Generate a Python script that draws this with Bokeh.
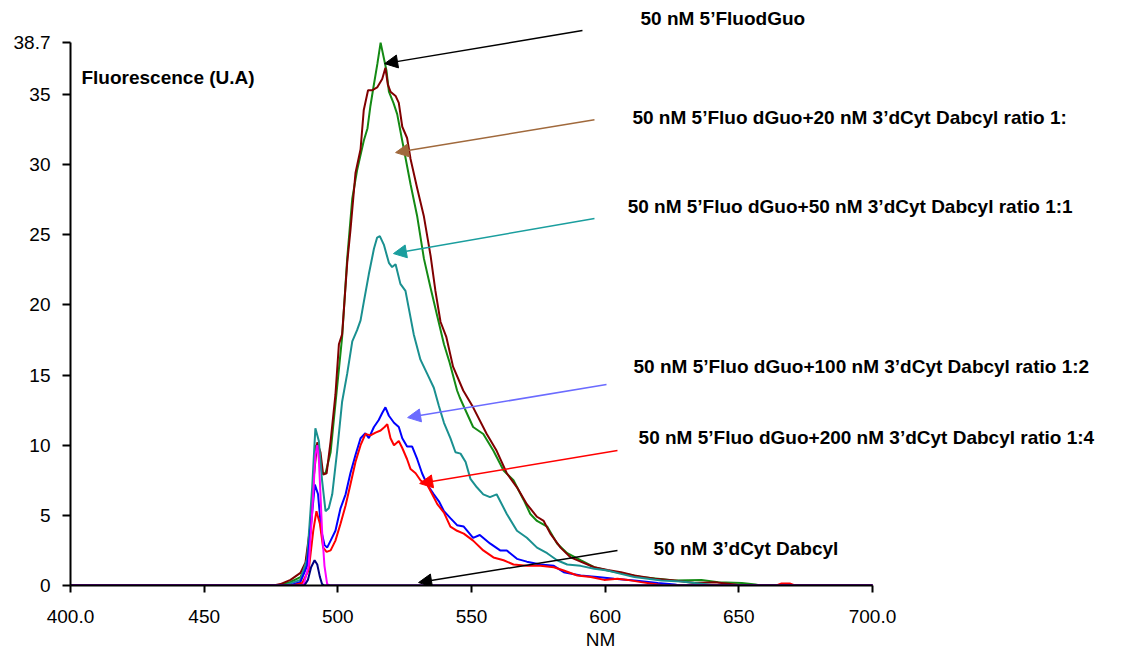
from bokeh.plotting import figure
from bokeh.models import Range1d, FixedTicker, Arrow, NormalHead
from bokeh.core.properties import value
from bokeh.embed import file_html
from bokeh.resources import INLINE

FONT = "Liberation Sans"

# ---------------- data (wavelength nm, fluorescence U.A) ----------------
green_nm = [400, 477, 478.5, 482.3, 486.0, 487.9, 489.8, 491.6, 492.9, 494.1, 495.4, 497.3,
            499.7, 501.6, 503.5, 505.4, 507.2, 509.7, 511.1, 512.2, 513.3, 514.8, 516.0, 517.2,
            518.2, 519.1, 520.8, 522.2, 524.7, 527.2, 529.7, 532.2, 534.7, 537.2, 539.7, 541.8,
            544.6, 545.6, 547.5, 550.6, 554.4, 558.2, 562.0, 565.7, 569.5, 572.0, 574.5, 578.3,
            582.0, 585.8, 590.8, 595.9, 600.9, 607.2, 613.4, 619.7, 626.0, 636.0, 642.3, 651.1,
            656.2, 658, 700]
green_val = [0, 0, 0.05, 0.25, 0.6, 1.4, 3.9, 10.0, 9.8, 8.0, 8.0, 9.5,
             14.1, 17.7, 23.3, 27.6, 29.6, 31.7, 32.6, 34.2, 35.5, 37.2, 38.7, 37.6,
             36.7, 35.2, 34.4, 33.6, 31.1, 28.6, 26.3, 23.3, 21.2, 19.2, 17.2, 15.9,
             13.9, 13.4, 12.6, 11.3, 10.8, 9.6, 8.2, 7.5, 6.1, 5.1, 4.6, 4.2,
             3.0, 2.3, 1.8, 1.3, 1.07, 0.83, 0.6, 0.48, 0.36, 0.4, 0.24, 0.17,
             0.07, 0, 0]

maroon_nm = [400, 476, 478.5, 482.3, 486.0, 487.9, 489.8, 491.0, 492.3, 493.5, 494.5, 495.8,
             497.3, 499.1, 500.4, 501.6, 503.5, 504.7, 506.6, 508.5, 509.7, 511.3, 512.8, 514.7,
             516.6, 517.8, 518.7, 519.7, 521.6, 522.8, 524.1, 525.9, 527.2, 529.7, 532.2, 534.7,
             536.5, 538.4, 540.6, 543.1, 546.9, 550.6, 555.7, 559.4, 563.2, 567.0, 570.7, 574.5,
             577.0, 579.5, 583.3, 587.1, 590.8, 595.9, 600.9, 605.9, 610.9, 618.5, 626.0, 633.5,
             641.0, 648.6, 651, 700]
maroon_val = [0, 0, 0.1, 0.4, 0.9, 1.65, 4.4, 7.75, 10.2, 9.5, 7.9, 8.0,
              10.3, 13.6, 17.2, 17.9, 23.0, 25.3, 29.4, 31.1, 33.9, 35.3, 35.3, 35.5,
              36.1, 36.9, 35.7, 35.2, 34.9, 34.4, 32.7, 31.9, 30.4, 28.3, 26.3, 23.5,
              21.0, 18.8, 17.7, 15.6, 13.9, 12.7, 10.8, 9.6, 8.0, 7.0, 5.8, 4.9,
              4.6, 3.7, 2.7, 2.0, 1.7, 1.3, 1.1, 0.95, 0.71, 0.48, 0.36, 0.17,
              0.24, 0.07, 0, 0]

teal_nm = [400, 480, 486.0, 488.5, 490.4, 491.6, 492.9, 494.1, 495.4, 496.6, 497.9, 499.7,
           501.6, 503.5, 505.4, 507.2, 508.5, 509.7, 511.6, 513.5, 514.7, 515.7, 517.2, 519.1,
           520.3, 521.6, 523.4, 525.3, 526.6, 528.4, 530.9, 533.4, 535.9, 537.8, 539.7, 542.1,
           544.0, 545.9, 547.8, 549.6, 552.0, 554.4, 556.9, 559.4, 563.2, 567.0, 570.7, 574.5,
           578.3, 582.0, 585.8, 590.8, 595.9, 600.9, 605.9, 610.9, 616.0, 621.0, 628.5, 633.5,
           638.6, 641, 700]
teal_val = [0, 0, 0.4, 1.9, 7.0, 11.2, 10.3, 7.5, 5.3, 5.5, 6.5, 9.5,
            13.1, 15.1, 17.4, 18.2, 18.9, 20.2, 22.2, 24.0, 24.8, 24.9, 24.3, 23.0,
            22.7, 22.9, 21.5, 21.0, 19.7, 17.9, 16.1, 15.1, 14.1, 12.8, 11.6, 10.5,
            9.5, 9.4, 8.8, 7.6, 7.0, 6.5, 6.3, 6.5, 5.1, 3.9, 3.4, 2.7,
            2.3, 1.8, 1.5, 1.4, 1.2, 1.07, 0.83, 0.6, 0.48, 0.36, 0.28, 0.17,
            0.07, 0, 0]

blue_nm = [400, 482, 486.0, 488.5, 490.4, 491.4, 492.6, 493.8, 495.0, 496.0, 497.3, 499.1,
           501.0, 502.9, 504.7, 506.6, 508.5, 510.3, 511.6, 513.5, 515.3, 516.6, 517.8, 519.1,
           521.0, 522.8, 524.1, 525.9, 527.8, 529.7, 531.5, 533.4, 535.9, 537.8, 539.7, 542.1,
           544.6, 547.1, 550.6, 553.1, 556.9, 560.7, 563.2, 567.0, 570.7, 575.8, 580.8, 584.5,
           590.8, 597.1, 603.4, 610.9, 619.7, 626.0, 628, 700]
blue_val = [0, 0, 0.25, 1.4, 5.2, 7.2, 6.5, 3.9, 2.9, 2.7, 3.2, 3.9,
            5.5, 6.5, 8.0, 9.3, 10.5, 10.85, 10.5, 11.3, 11.8, 12.3, 12.7, 12.1,
            11.6, 11.3, 10.5, 9.9, 9.9, 9.0, 8.0, 7.2, 6.5, 6.0, 5.3, 4.8,
            4.3, 4.2, 3.4, 3.6, 3.0, 2.5, 2.5, 1.9, 1.7, 1.5, 1.4, 0.95,
            0.71, 0.6, 0.48, 0.36, 0.17, 0.07, 0, 0]

red_nm = [400, 483, 486.7, 489.1, 490.8, 492.0, 493.3, 494.5, 495.8, 497.3, 499.1, 501.0,
          502.9, 504.7, 506.6, 508.5, 510.3, 512.2, 514.1, 516.0, 517.5, 518.5, 519.7, 521.0,
          522.8, 524.1, 525.9, 527.2, 529.1, 530.9, 533.4, 535.3, 537.2, 539.7, 542.1, 544.6,
          547.1, 550.6, 554.4, 558.2, 562.0, 565.7, 570.7, 575.8, 580.8, 584.5, 589.6, 594.6,
          599.6, 604.6, 608.4, 613.4, 619.7, 622, 664, 666, 669, 671, 700]
red_val = [0, 0, 0.18, 1.1, 3.9, 5.3, 4.4, 2.7, 2.4, 2.5, 3.2, 4.4,
           5.7, 7.2, 8.8, 10.0, 10.8, 10.7, 10.9, 11.05, 11.3, 11.5, 10.5, 10.0,
           10.3, 9.8, 9.0, 8.3, 8.0, 7.5, 7.2, 6.5, 5.8, 5.2, 4.2, 3.9,
           3.7, 3.2, 2.5, 2.0, 1.8, 1.5, 1.4, 1.4, 1.3, 1.07, 0.71, 0.6,
           0.4, 0.48, 0.4, 0.24, 0.07, 0, 0, 0.15, 0.15, 0, 0]

magenta_nm = [400, 486, 487.3, 489.1, 490.4, 491.6, 492.3, 492.9, 493.5, 494.1, 495.0, 496.0, 497, 700]
magenta_val = [0, 0, 0.1, 1.4, 5.2, 9.3, 10.0, 9.0, 6.5, 3.9, 1.4, 0.1, 0, 0]

navy_nm = [400, 487.5, 488.8, 490.0, 491.3, 492.3, 493.3, 494.1, 495, 700]
navy_val = [0, 0, 0.4, 1.3, 1.8, 1.5, 0.6, 0.1, 0, 0]

series_colors = ["#148A14", "#800000", "#1A9090", "#0000FF", "#FF0000", "#FF00FF", "#000080"]

# annotation labels: left x (nm), centre y (U.A)
labels = ["50 nM 5\u2019FluodGuo",
          "50 nM 5\u2019Fluo dGuo+20 nM 3\u2019dCyt Dabcyl ratio 1:",
          "50 nM 5\u2019Fluo dGuo+50 nM 3\u2019dCyt Dabcyl ratio 1:1",
          "50 nM 5\u2019Fluo dGuo+100 nM 3\u2019dCyt Dabcyl ratio 1:2",
          "50 nM 5\u2019Fluo dGuo+200 nM 3\u2019dCyt Dabcyl ratio 1:4",
          "50 nM 3\u2019dCyt Dabcyl"]
label_x = [613.2, 610.2, 608.4, 610.6, 612.5, 618.1]
label_y = [40.45, 33.36, 27.01, 15.61, 10.55, 2.64]

# arrows: start (tail) and end (head) in data units
arrow_x0 = [591.5, 596.0, 596.0, 600.5, 604.6, 604.6]
arrow_y0 = [39.56, 33.2, 26.16, 14.33, 9.62, 2.49]
arrow_x1 = [517.5, 521.6, 520.8, 526.1, 530.6, 530.2]
arrow_y1 = [37.2, 30.86, 23.66, 11.97, 7.27, 0.21]
arrow_colors = ["#000000", "#A0693C", "#1A9E9E", "#6B6BFF", "#FF0000", "#000000"]

y_ticks = [0, 5, 10, 15, 20, 25, 30, 35, 38.7]
y_tick_labels = ["0", "5", "10", "15", "20", "25", "30", "35", "38.7"]
x_ticks = [400, 450, 500, 550, 600, 650, 700]
x_tick_labels = ["400.0", "450", "500", "550", "600", "650", "700.0"]

# ---------------- figure ----------------
p = figure(width=1130, height=652, output_backend="svg", toolbar_location=None,
           x_range=Range1d(400, 796.5), y_range=Range1d(0, 41.13),
           min_border_left=70, min_border_right=0, min_border_top=8, min_border_bottom=67)
p.outline_line_color = None
p.grid.visible = False
p.background_fill_color = "white"

series = [(green_nm, green_val), (maroon_nm, maroon_val), (teal_nm, teal_val),
          (blue_nm, blue_val), (red_nm, red_val), (magenta_nm, magenta_val), (navy_nm, navy_val)]
for (xs, ys), c in zip(series, series_colors):
    p.line(xs, ys, line_color=c, line_width=2)

for x0, y0, x1, y1, c in zip(arrow_x0, arrow_y0, arrow_x1, arrow_y1, arrow_colors):
    p.add_layout(Arrow(end=NormalHead(size=13, fill_color=c, line_color=c),
                       x_start=x0, y_start=y0, x_end=x1, y_end=y1,
                       line_color=c, line_width=1.5))

p.text(x=label_x, y=label_y, text=labels, text_font=value(FONT), text_font_style="bold",
       text_font_size="19px", text_baseline="middle", text_align="left", text_color="black")
p.text(x=[404.1], y=[36.2], text=["Fluorescence (U.A)"], text_font=value(FONT),
       text_font_style="bold", text_font_size="19px", text_baseline="middle",
       text_align="left", text_color="black")

# axes
xa = p.xaxis[0]
xa.ticker = FixedTicker(ticks=x_ticks)
xa.major_label_overrides = {t: l for t, l in zip(x_ticks, x_tick_labels)}
xa.bounds = (400, 700)
xa.minor_tick_line_color = None
xa.major_tick_in = 0
xa.major_tick_out = 7
xa.major_tick_line_width = 2
xa.axis_line_width = 2
xa.axis_line_color = "black"
xa.major_label_text_font = FONT
xa.major_label_text_font_size = "19px"
xa.major_label_text_color = "black"
xa.major_label_standoff = 17
xa.axis_label = "NM"
xa.axis_label_text_font = FONT
xa.axis_label_text_font_size = "19px"
xa.axis_label_text_font_style = "normal"
xa.axis_label_text_color = "black"
xa.axis_label_standoff = 3

ya = p.yaxis[0]
ya.ticker = FixedTicker(ticks=y_ticks)
ya.major_label_overrides = {t: l for t, l in zip(y_ticks, y_tick_labels)}
ya.bounds = (0, 38.7)
ya.minor_tick_line_color = None
ya.major_tick_in = 0
ya.major_tick_out = 8
ya.major_tick_line_width = 2
ya.axis_line_width = 2
ya.axis_line_color = "black"
ya.major_label_text_font = FONT
ya.major_label_text_font_size = "19px"
ya.major_label_text_color = "black"
ya.major_label_standoff = 12

open("out.html", "w").write(file_html(p, INLINE))
